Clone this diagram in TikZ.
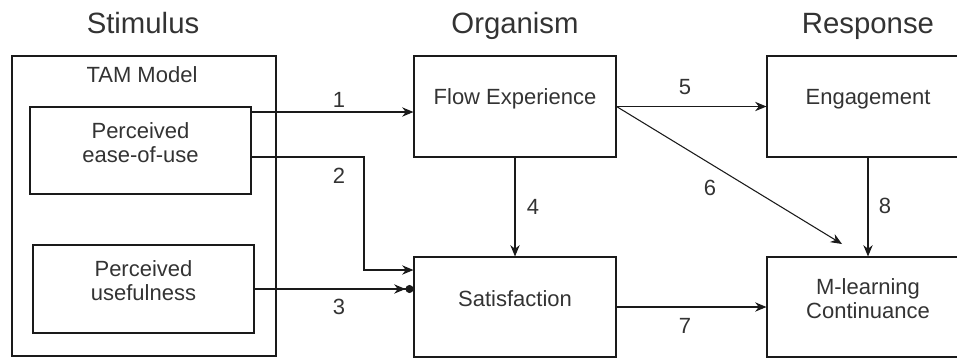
\documentclass[tikz,border=0pt]{standalone}
\usepackage{fontspec}
\setmainfont{Liberation Sans}
\usetikzlibrary{fit,arrows.meta}
\definecolor{txt}{HTML}{333333}
\definecolor{ln}{HTML}{1A1A1A}
\begin{document}
\begin{tikzpicture}[x=0.75pt,y=-0.75pt,
  box/.style={draw=ln,line width=0.8pt,inner sep=0pt,align=center,text=txt,
    font=\fontsize{16.5}{18}\selectfont},
  head/.style={anchor=base,text=txt,font=\fontsize{22}{26}\selectfont},
  lab/.style={text=txt,font=\fontsize{16.5}{18}\selectfont},
  arr/.style={draw=ln,line width=0.8pt,-{Stealth[length=8.5pt,width=7pt]}}]
\clip (0,0) rectangle (957,358);
% headers
\node[head] (hs) at (143,33) {Stimulus};
\node[head] (ho) at (515,33) {Organism};
\node[head] (hr) at (868,33) {Response};
% boxes
\node[box,fit={(12,56) (276,356)}] (tam) {};
\node[anchor=base,text=txt,font=\fontsize{16.5}{18}\selectfont] (tamlab) at (142,82) {TAM Model};
\node[box,fit={(30,107) (251,194)}] (peu) {Perceived\\ease-of-use};
\node[box,fit={(33,245) (254,333)}] (pu) {Perceived\\usefulness};
\node[box,fit={(414,56) (616,157)}] (flow) {Flow Experience};
\node[box,fit={(414,257) (616,357)}] (sat) {Satisfaction};
\node[box,fit={(767,56) (969,157)}] (eng) {Engagement};
\node[box,fit={(767,257) (969,357)}] (ml) {M-learning\\Continuance};
% helper coordinates
\coordinate (r1) at (0,112);
\coordinate (r2) at (0,157);
\coordinate (b2) at (364,270);
\coordinate (r3) at (0,289);
\coordinate (c6) at (842,244);
% connectors
\draw[arr] (peu.east |- r1) -- (flow.west |- r1);
\draw[arr] (peu.east |- r2) -| (b2) -- (sat.west |- b2);
\draw[draw=ln,line width=0.8pt,-{Stealth[length=8.5pt,width=7pt]Circle[length=6pt]}] (pu.east |- r3) -- (sat.west |- r3);
\draw[arr] (flow.south) -- (sat.north);
\draw[arr] (flow.east) -- (eng.west);
\draw[arr] (flow.east) -- (c6);
\draw[arr] (sat.east) -- (ml.west);
\draw[arr] (eng.south) -- (ml.north);
% labels
\node[lab] (l1) at (339,100) {1};
\node[lab] (l2) at (339,176) {2};
\node[lab] (l3) at (339,307) {3};
\node[lab] (l4) at (533,207) {4};
\node[lab] (l5) at (685,87) {5};
\node[lab] (l6) at (710,188) {6};
\node[lab] (l7) at (685,326) {7};
\node[lab] (l8) at (885,206) {8};
\end{tikzpicture}
\end{document}
